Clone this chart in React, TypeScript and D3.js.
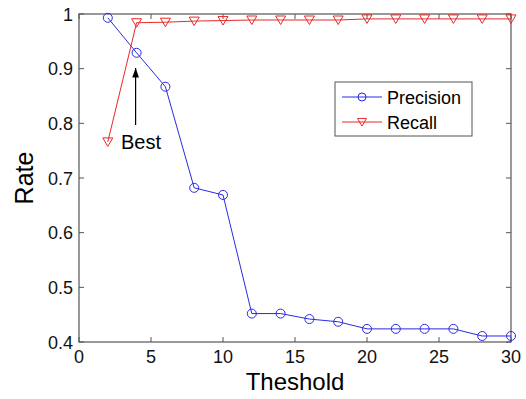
import React from "react";
import * as d3 from "d3";

const thresholds = [2, 4, 6, 8, 10, 12, 14, 16, 18, 20, 22, 24, 26, 28, 30];
const precision = [0.993, 0.929, 0.867, 0.682, 0.669, 0.452, 0.452, 0.442, 0.437, 0.424, 0.424, 0.424, 0.424, 0.411, 0.411];
const recall = [0.766, 0.984, 0.985, 0.987, 0.988, 0.989, 0.989, 0.989, 0.989, 0.991, 0.991, 0.991, 0.991, 0.991, 0.991];
const xTicks = [0, 5, 10, 15, 20, 25, 30];
const yTicks = [0.4, 0.5, 0.6, 0.7, 0.8, 0.9, 1];
const seriesNames = ["Precision", "Recall"];

const W = 526, H = 399;
const M = { left: 79, right: 15, top: 14, bottom: 57 };
const BLUE = "#2a2ae6";
const RED = "#e62a2a";
const AXIS = "#555";
const FONT = "Liberation Sans, Arial, sans-serif";

export default function App() {
  const x = d3.scaleLinear().domain([0, 30]).range([M.left, W - M.right]);
  const y = d3.scaleLinear().domain([0.4, 1]).range([H - M.bottom, M.top]);
  const line = d3.line<[number, number]>().x(d => x(d[0])).y(d => y(d[1]));
  const pPts = thresholds.map((t, i) => [t, precision[i]] as [number, number]);
  const rPts = thresholds.map((t, i) => [t, recall[i]] as [number, number]);
  const x0 = x(0), x1 = x(30), y0 = y(0.4), y1 = y(1);
  const tri = (cx: number, cy: number, s = 5) =>
    `M${cx - s},${cy - s * 0.8}L${cx + s},${cy - s * 0.8}L${cx},${cy + s * 0.9}Z`;
  const legX = 335, legY = 82, legW = 137, legH = 54;
  return (
    <svg width={W} height={H} style={{ position: "absolute", left: 0, top: 0, background: "#fff" }}>
      <defs>
        <marker id="ah" viewBox="0 0 10 10" refX="10" refY="5" markerWidth="8" markerHeight="10" orient="auto">
          <path d="M0,1.5L10,5L0,8.5Z" fill="#000" />
        </marker>
      </defs>
      {xTicks.map(t => (
        <g key={"xt" + t}>
          <line x1={x(t)} x2={x(t)} y1={y0} y2={y0 - 5} stroke={AXIS} />
          <line x1={x(t)} x2={x(t)} y1={y1} y2={y1 + 5} stroke={AXIS} />
          <text x={x(t)} y={y0 + 21} textAnchor="middle" fontFamily={FONT} fontSize={18} fill="#111">{t}</text>
        </g>
      ))}
      {yTicks.map(t => (
        <g key={"yt" + t}>
          <line x1={x0} x2={x0 + 5} y1={y(t)} y2={y(t)} stroke={AXIS} />
          <line x1={x1} x2={x1 - 5} y1={y(t)} y2={y(t)} stroke={AXIS} />
          <text x={x0 - 6} y={y(t) + 6.5} textAnchor="end" fontFamily={FONT} fontSize={18} fill="#111">{t}</text>
        </g>
      ))}
      <rect x={x0} y={y1} width={x1 - x0} height={y0 - y1} fill="none" stroke={AXIS} strokeWidth={1.2} />
      <path d={line(pPts) || ""} fill="none" stroke={BLUE} strokeWidth={1} />
      <path d={line(rPts) || ""} fill="none" stroke={RED} strokeWidth={1} />
      {pPts.map((d, i) => (
        <circle key={"p" + i} cx={x(d[0])} cy={y(d[1])} r={4.5} fill="none" stroke={BLUE} strokeWidth={1} />
      ))}
      {rPts.map((d, i) => (
        <path key={"r" + i} d={tri(x(d[0]), y(d[1]))} fill="none" stroke={RED} strokeWidth={1} />
      ))}
      <line x1={x(4) - 1} x2={x(4) - 1} y1={125} y2={68} stroke="#000" strokeWidth={1.2} markerEnd="url(#ah)" />
      <text x={121} y={149} fontFamily={FONT} fontSize={20} fill="#000">Best</text>
      <rect x={legX} y={legY} width={legW} height={legH} fill="#fff" stroke={AXIS} strokeWidth={1} />
      <line x1={342} x2={382} y1={97} y2={97} stroke={BLUE} />
      <circle cx={362} cy={97} r={4} fill="none" stroke={BLUE} />
      <text x={387} y={103.5} fontFamily={FONT} fontSize={18} fill="#000">{seriesNames[0]}</text>
      <line x1={342} x2={382} y1={122} y2={122} stroke={RED} />
      <path d={tri(362, 122, 4.5)} fill="none" stroke={RED} />
      <text x={387} y={129} fontFamily={FONT} fontSize={18} fill="#000">{seriesNames[1]}</text>
      <text x={(x0 + x1) / 2} y={390} textAnchor="middle" fontFamily={FONT} fontSize={24} fill="#000">Theshold</text>
      <text transform={`translate(33,${(y0 + y1) / 2}) rotate(-90)`} textAnchor="middle" fontFamily={FONT} fontSize={25} fill="#000">Rate</text>
    </svg>
  );
}
